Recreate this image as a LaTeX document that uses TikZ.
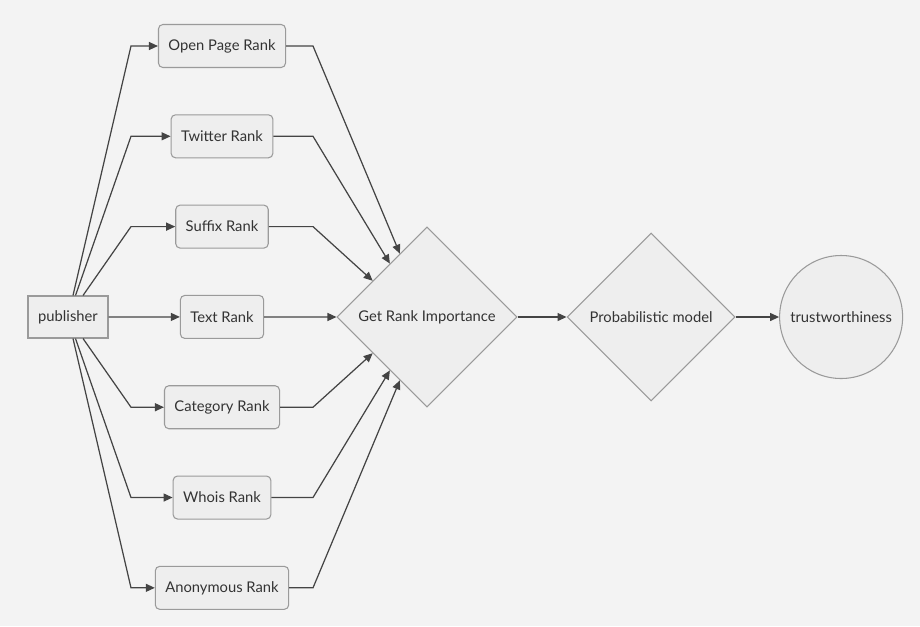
\documentclass[tikz,border=0pt]{standalone}
\usepackage{fontspec}
\setmainfont{Lato}
\usepackage{tikz}
\usetikzlibrary{arrows.meta,positioning,shapes.geometric,calc}
\definecolor{flowPage}{HTML}{F3F3F3}
\definecolor{flowFill}{HTML}{EEEEEE}
\definecolor{flowEdge}{HTML}{9A9A9A}
\definecolor{flowLine}{HTML}{444444}
\definecolor{flowText}{HTML}{333333}
\tikzset{
  rankbox/.style={rectangle,draw=flowEdge,fill=flowFill,rounded corners=2.5pt,line width=0.6pt,
    minimum height=0.86cm,inner xsep=0.2cm,text=flowText,font=\fontsize{8.4}{10}\selectfont},
  sourcebox/.style={rectangle,draw=flowEdge,fill=flowFill,line width=0.6pt,
    minimum height=0.84cm,minimum width=1.6cm,text=flowText,font=\fontsize{8.4}{10}\selectfont},
  rankdecision/.style={diamond,draw=flowEdge,fill=flowFill,aspect=1,inner sep=0pt,line width=0.6pt,
    text=flowText,font=\fontsize{8.4}{10}\selectfont},
  rankresult/.style={circle,draw=flowEdge,fill=flowFill,inner sep=0pt,line width=0.6pt,
    minimum size=2.46cm,text=flowText,font=\fontsize{8.4}{10}\selectfont},
  arrow/.style={->,>={Triangle[length=0.18cm,width=0.16cm]},draw=flowLine,line width=0.7pt}
}
\begin{document}
\begin{tikzpicture}[node distance=0.925cm]
  \path[use as bounding box,fill=flowPage] (0,0) rectangle (18.4,-12.52);
  % sources and ranks
  \node[sourcebox] (pub) at (1.36,-6.34) {publisher};
  \node[rankbox] (op) at (4.44,-0.92) {Open Page Rank};
  \node[rankbox, below=of op] (tw) {Twitter Rank};
  \node[rankbox, below=of tw] (sf) {Suffix Rank};
  \node[rankbox, below=of sf] (tx) {Text Rank};
  \node[rankbox, below=of tx] (ct) {Category Rank};
  \node[rankbox, below=of ct] (wh) {Whois Rank};
  \node[rankbox, below=of wh] (an) {Anonymous Rank};
  % decisions and result
  \node[rankdecision, minimum size=3.6cm] (gri) at (8.54,-6.34) {Get Rank Importance};
  \node[rankdecision, minimum size=3.36cm, right=0.98cm of gri] (pm) {Probabilistic model};
  \node[rankresult, right=0.87cm of pm] (tr) {trustworthiness};
  \coordinate (lbend) at (2.62,0);
  \coordinate (rbend) at (6.26,0);
  % publisher to ranks
  \draw[arrow] (pub) -- (lbend |- op.west) -- (op.west);
  \draw[arrow] (pub) -- (lbend |- tw.west) -- (tw.west);
  \draw[arrow] (pub) -- (lbend |- sf.west) -- (sf.west);
  \draw[arrow] (pub.east) -- (tx.west);
  \draw[arrow] (pub) -- (lbend |- ct.west) -- (ct.west);
  \draw[arrow] (pub) -- (lbend |- wh.west) -- (wh.west);
  \draw[arrow] (pub) -- (lbend |- an.west) -- (an.west);
  % ranks to importance
  \draw[arrow] (op.east) -- (rbend |- op.east) -- ($(gri.west)!0.70!(gri.north)$);
  \draw[arrow] (tw.east) -- (rbend |- tw.east) -- ($(gri.west)!0.59!(gri.north)$);
  \draw[arrow] (sf.east) -- (rbend |- sf.east) -- ($(gri.west)!0.40!(gri.north)$);
  \draw[arrow] (tx.east) -- (gri.west);
  \draw[arrow] (ct.east) -- (rbend |- ct.east) -- ($(gri.west)!0.40!(gri.south)$);
  \draw[arrow] (wh.east) -- (rbend |- wh.east) -- ($(gri.west)!0.59!(gri.south)$);
  \draw[arrow] (an.east) -- (rbend |- an.east) -- ($(gri.west)!0.70!(gri.south)$);
  \draw[arrow] (gri.east) -- (pm.west);
  \draw[arrow] (pm.east) -- (tr.west);
\end{tikzpicture}
\end{document}
